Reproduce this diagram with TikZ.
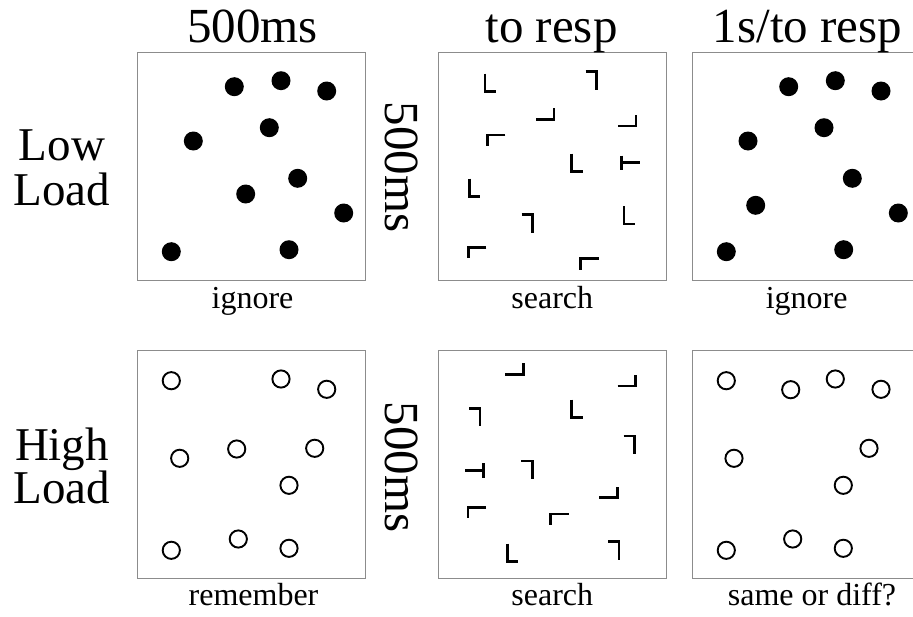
\documentclass[tikz,border=0pt]{standalone}
\usepackage{fontspec}
\setmainfont{Liberation Serif}
\begin{document}
\begin{tikzpicture}[x=1pt,y=-1pt,
  frame/.style={draw=black!45,line width=1.3pt},
  dot/.style={fill=black},
  ring/.style={draw=black,line width=1.9pt},
  glyph/.style={line width=2.7pt},
  big/.style={font=\fontsize{47}{52}\selectfont,inner sep=0pt},
  head/.style={font=\fontsize{49}{54}\selectfont,inner sep=0pt},
  small/.style={font=\fontsize{32}{36}\selectfont,inner sep=0pt},
  Lup/.pic={\draw[glyph] (0,-18)--(0,0)--(11,0);},
  Lleft/.pic={\draw[glyph] (-18,0)--(0,0)--(0,-11);},
  Ldn/.pic={\draw[glyph] (-11,0)--(0,0)--(0,18);},
  Lrt/.pic={\draw[glyph] (18,0)--(0,0)--(0,11);}
]
\useasboundingbox (0,0) rectangle (913,616);
\fill[white] (0,0) rectangle (913,616);

% frames
\draw[frame] (137.5,52.7) rectangle +(228,228);
\draw[frame] (438.3,52.7) rectangle +(228,228);
\draw[frame] (692.7,52.7) rectangle +(228,228);
\draw[frame] (137.5,350.7) rectangle +(228,228);
\draw[frame] (438.3,350.7) rectangle +(228,228);
\draw[frame] (692.7,350.7) rectangle +(228,228);

% titles
\node[head,anchor=base] (t1) at (252.5,42) {500ms};
\node[head,anchor=base] (t2) at (551.5,42) {to resp};
\node[head,anchor=base] (t3) at (807.5,42) {1s/to resp};

% row labels
\node[big,anchor=base] (r1a) at (62,160) {Low};
\node[big,anchor=base] (r1b) at (62,205) {Load};
\node[big,anchor=base] (r2a) at (62,460) {High};
\node[big,anchor=base] (r2b) at (62,503) {Load};

% rotated durations
\node[head,rotate=-90] (d1) at (402,167) {500ms};
\node[head,rotate=-90] (d2) at (402,467) {500ms};

% captions
\node[small,anchor=base] (c1) at (252.5,308) {ignore};
\node[small,anchor=base] (c2) at (552.3,308) {search};
\node[small,anchor=base] (c3) at (806.7,308) {ignore};
\node[small,anchor=base] (c4) at (253.5,605) {remember};
\node[small,anchor=base] (c5) at (552.3,605) {search};
\node[small,anchor=base] (c6) at (812,605) {same or diff?};

% low load, first display
\foreach \p in {(234.3,86.7),(281,80.7),(326.7,91),(269.3,127.7),(193.3,141),
  (297.7,178.3),(245.7,194),(343.7,213),(171.3,251.7),(289,249.7)}
  \fill[dot] \p circle (9.5);
% low load, probe display
\foreach \p in {(788.7,86.7),(835.3,80.7),(881,91),(824,127.7),(748,141),
  (852.3,178.3),(755.7,205.3),(898.3,213),(726.3,251.7),(843.7,249.7)}
  \fill[dot] \p circle (9.5);

% high load, first display
\foreach \p in {(171.3,380.7),(281,379),(326.7,389.3),(179.7,458.3),(236.7,449),
  (314.7,448.3),(289,485.3),(171.3,550.3),(238.3,539),(289,548.3)}
  \draw[ring] \p circle (8.6);
% high load, probe display
\foreach \p in {(726.3,380.7),(790.7,389.7),(835.3,379),(881,389.3),(734,458.3),
  (869,448.3),(843.3,485.3),(726.3,550.3),(792.7,539),(843.3,548.3)}
  \draw[ring] \p circle (8.6);

% search display, low load
\pic at (485,91.7) {Lup};
\pic at (596.7,71.7) {Ldn};
\pic at (554,119.3) {Lleft};
\pic at (636,126) {Lleft};
\pic at (487.3,135) {Lrt};
\pic at (571.7,171.7) {Lup};
\draw[glyph] (621.7,155.7) -- (621.7,170);
\draw[glyph] (621.7,162.8) -- (639.5,162.8);
\pic at (469.3,196.7) {Lup};
\pic at (624,224) {Lup};
\pic at (532.7,214.7) {Ldn};
\pic at (468.3,247.3) {Lrt};
\pic at (580.7,258.7) {Lrt};

% search display, high load
\pic at (523.3,374.3) {Lleft};
\pic at (635.7,386) {Lleft};
\pic at (480,408.3) {Ldn};
\pic at (571.7,417.7) {Lup};
\pic at (634.7,436) {Ldn};
\draw[glyph] (483.3,463.3) -- (483.3,477.7);
\draw[glyph] (465,470.6) -- (483.3,470.6);
\pic at (532.3,461) {Ldn};
\pic at (617.3,497.7) {Lleft};
\pic at (468,507.3) {Lrt};
\pic at (550.7,514) {Lrt};
\pic at (507.3,561.7) {Lup};
\pic at (619,541.7) {Ldn};
\end{tikzpicture}
\end{document}
